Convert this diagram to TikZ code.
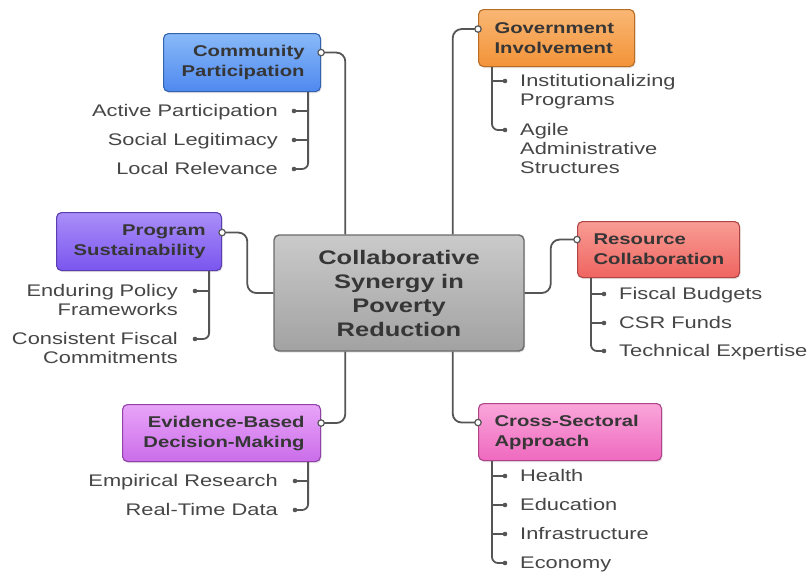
\documentclass[tikz,border=0pt]{standalone}
\usepackage{fontspec}
\setmainfont[FakeStretch=1.3]{Liberation Sans}
\usetikzlibrary{shadows}

\definecolor{linegray}{HTML}{555555}
\definecolor{headtext}{HTML}{363636}
\definecolor{leaftext}{HTML}{464646}
% top / bottom / border colours of each topic box
\definecolor{cpT}{HTML}{88B9F8}\definecolor{cpB}{HTML}{4E89EF}\definecolor{cpD}{HTML}{3463B0}
\definecolor{giT}{HTML}{F9B774}\definecolor{giB}{HTML}{F39338}\definecolor{giD}{HTML}{B86C24}
\definecolor{psT}{HTML}{AA8EF8}\definecolor{psB}{HTML}{7A56EF}\definecolor{psD}{HTML}{5A3DB0}
\definecolor{rcT}{HTML}{F89C94}\definecolor{rcB}{HTML}{EF6560}\definecolor{rcD}{HTML}{B04444}
\definecolor{ebT}{HTML}{E8A4F8}\definecolor{ebB}{HTML}{CB6DEA}\definecolor{ebD}{HTML}{9042A8}
\definecolor{csT}{HTML}{F9A6DA}\definecolor{csB}{HTML}{EF69BF}\definecolor{csD}{HTML}{B0428A}
\definecolor{cnT}{HTML}{CACACA}\definecolor{cnB}{HTML}{A2A2A2}\definecolor{cnD}{HTML}{6A6A6A}

\tikzset{
  topic/.style n args={3}{rectangle, rounded corners=5pt, top color=#1, bottom color=#2,
    draw=#3, line width=1.1pt, inner xsep=16pt, inner ysep=0pt,
    drop shadow={opacity=0.22, shadow xshift=1pt, shadow yshift=-1.5pt},
    text=headtext, font=\bfseries\fontsize{15.6}{20}\selectfont},
  conn/.style={draw=linegray, line width=1.8pt, rounded corners=9pt},
  twig/.style={draw=linegray, line width=1.8pt, rounded corners=6pt},
  leaf/.style={inner sep=0pt, text=leaftext, font=\fontsize{16.8}{19}\selectfont,
    text height=12pt, text depth=2pt},
  leafm/.style={inner sep=0pt, text=leaftext, font=\fontsize{16.8}{19}\selectfont,
    text width=230pt},
  port/.style={draw=linegray, line width=1.2pt, fill=white},
  dot/.style={fill=linegray}
}

\begin{document}
\begin{tikzpicture}[x=1pt,y=-1pt]
\fill[white] (0,0) rectangle (809,576);
\useasboundingbox (0,0) rectangle (809,576);

% central topic
\node[topic={cnT}{cnB}{cnD}, line width=1.4pt, minimum width=250pt, minimum height=116pt,
  text width=218pt, align=center, font=\bfseries\fontsize{19.6}{24}\selectfont]
  (cen) at (399,293) {Collaborative\\Synergy in\\Poverty\\Reduction};

% main branches
\node[topic={cpT}{cpB}{cpD}, anchor=north west, minimum height=58pt, text width=125pt, align=right]
  (comm) at (163,33) {Community\\Participation};
\node[topic={giT}{giB}{giD}, anchor=north west, minimum height=57pt, text width=124pt, align=left]
  (gov) at (478,9) {Government\\Involvement};
\node[topic={psT}{psB}{psD}, anchor=north west, minimum height=58pt, text width=133pt, align=right]
  (prog) at (56,212) {Program\\Sustainability};
\node[topic={rcT}{rcB}{rcD}, anchor=north west, minimum height=56pt, text width=130pt, align=left]
  (res) at (577,221) {Resource\\Collaboration};
\node[topic={ebT}{ebB}{ebD}, anchor=north west, minimum height=57pt, text width=166pt, align=right]
  (evid) at (122,404) {Evidence-Based\\Decision-Making};
\node[topic={csT}{csB}{csD}, anchor=north west, minimum height=57pt, text width=151pt, align=left]
  (cross) at (478,403) {Cross-Sectoral\\Approach};

% attachment points on the topic boxes
\coordinate (commP) at ([yshift=10pt]comm.east);
\coordinate (govP) at ([yshift=9pt]gov.west);
\coordinate (progP) at ([yshift=9pt]prog.west -| prog.east);
\coordinate (resP) at ([yshift=10pt]res.west);
\coordinate (evidP) at ([yshift=10pt]evid.east);
\coordinate (crossP) at ([yshift=9.5pt]cross.west);

% connectors from the central topic
\draw[conn] (commP) -| ([xshift=72pt]cen.north west);
\draw[conn] (govP) -| ([xshift=-72pt]cen.north east);
\draw[conn] (progP) -| ([xshift=-26pt]cen.west) -- (cen.west);
\draw[conn] (resP) -| ([xshift=26pt]cen.east) -- (cen.east);
\draw[conn] ([xshift=72pt]cen.south west) |- (evidP);
\draw[conn] ([xshift=-72pt]cen.south east) |- (crossP);
\foreach \p in {commP,govP,progP,resP,evidP,crossP} \draw[port] (\p) circle (3.2pt);

% Community Participation leaves
\coordinate (commS) at ([xshift=-13pt]comm.south east);
\coordinate (ca1) at (294,111);
\coordinate (ca2) at (294,140);
\coordinate (ca3) at (294,169);
\draw[twig] (commS) |- (ca3);
\draw[twig] (commS |- ca1) -- (ca1);
\draw[twig] (commS |- ca2) -- (ca2);
\node[leaf, anchor=east] (ta1) at ([xshift=-16pt]ca1) {Active Participation};
\node[leaf, anchor=east] (ta2) at ([xshift=-16pt]ca2) {Social Legitimacy};
\node[leaf, anchor=east] (ta3) at ([xshift=-16pt]ca3) {Local Relevance};

% Government Involvement leaves
\coordinate (govS) at ([xshift=14pt]gov.south west);
\coordinate (gb1) at (505,81);
\coordinate (gb2) at (505,130);
\draw[twig] (govS) |- (gb2);
\draw[twig] (govS |- gb1) -- (gb1);
\node[leafm, anchor=north west, align=left] (tb1) at ([xshift=15pt,yshift=6.5pt]gb1) {Institutionalizing\\Programs};
\node[leafm, anchor=north west, align=left] (tb2) at ([xshift=15pt,yshift=6.5pt]gb2) {Agile\\Administrative\\Structures};

% Program Sustainability leaves
\coordinate (progS) at ([xshift=-13pt]prog.south east);
\coordinate (pc1) at (195,291);
\coordinate (pc2) at (195,339);
\draw[twig] (progS) |- (pc2);
\draw[twig] (progS |- pc1) -- (pc1);
\node[leafm, anchor=north east, align=right] (tc1) at ([xshift=-17pt,yshift=6.5pt]pc1) {Enduring Policy\\Frameworks};
\node[leafm, anchor=north east, align=right] (tc2) at ([xshift=-17pt,yshift=6.5pt]pc2) {Consistent Fiscal\\Commitments};

% Resource Collaboration leaves
\coordinate (resS) at ([xshift=14pt]res.south west);
\coordinate (rd1) at (604,294);
\coordinate (rd2) at (604,323);
\coordinate (rd3) at (604,351);
\draw[twig] (resS) |- (rd3);
\draw[twig] (resS |- rd1) -- (rd1);
\draw[twig] (resS |- rd2) -- (rd2);
\node[leaf, anchor=west] (td1) at ([xshift=15pt]rd1) {Fiscal Budgets};
\node[leaf, anchor=west] (td2) at ([xshift=15pt]rd2) {CSR Funds};
\node[leaf, anchor=west] (td3) at ([xshift=15pt]rd3) {Technical Expertise};

% Evidence-Based Decision-Making leaves
\coordinate (evidS) at ([xshift=-13pt]evid.south east);
\coordinate (ee1) at (295,481);
\coordinate (ee2) at (295,510);
\draw[twig] (evidS) |- (ee2);
\draw[twig] (evidS |- ee1) -- (ee1);
\node[leaf, anchor=east] (te1) at ([xshift=-17pt]ee1) {Empirical Research};
\node[leaf, anchor=east] (te2) at ([xshift=-17pt]ee2) {Real-Time Data};

% Cross-Sectoral Approach leaves
\coordinate (crossS) at ([xshift=14pt]cross.south west);
\coordinate (cf1) at (505,476);
\coordinate (cf2) at (505,505);
\coordinate (cf3) at (505,534);
\coordinate (cf4) at (505,563);
\draw[twig] (crossS) |- (cf4);
\draw[twig] (crossS |- cf1) -- (cf1);
\draw[twig] (crossS |- cf2) -- (cf2);
\draw[twig] (crossS |- cf3) -- (cf3);
\node[leaf, anchor=west] (tf1) at ([xshift=15pt]cf1) {Health};
\node[leaf, anchor=west] (tf2) at ([xshift=15pt]cf2) {Education};
\node[leaf, anchor=west] (tf3) at ([xshift=15pt]cf3) {Infrastructure};
\node[leaf, anchor=west] (tf4) at ([xshift=15pt]cf4) {Economy};

% leaf bullets
\foreach \p in {ca1,ca2,ca3,gb1,gb2,pc1,pc2,rd1,rd2,rd3,ee1,ee2,cf1,cf2,cf3,cf4}
  \fill[dot] (\p) circle (2.3pt);
\end{tikzpicture}
\end{document}
